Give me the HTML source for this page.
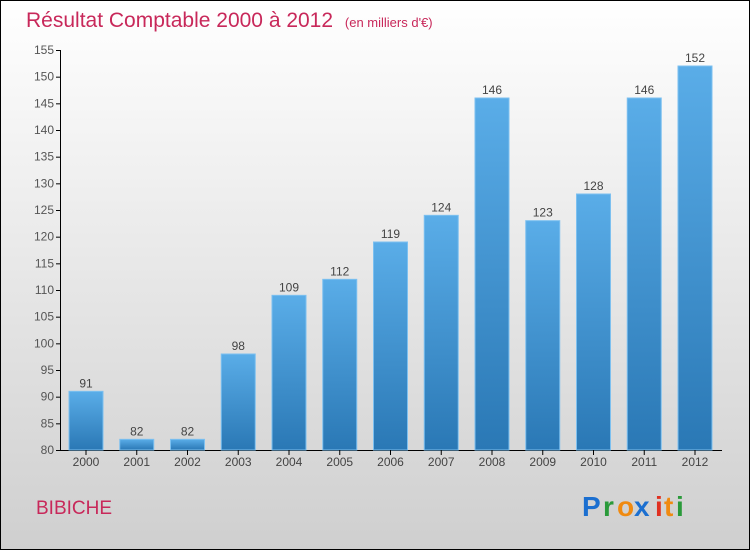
<!DOCTYPE html>
<html><head><meta charset="utf-8"><style>
body{margin:0;width:750px;height:550px;overflow:hidden}
svg{display:block;font-family:"Liberation Sans",sans-serif}
</style></head><body>
<svg width="750" height="550">
<defs>
<linearGradient id="bg" x1="0" y1="0" x2="0" y2="1"><stop offset="0" stop-color="#ffffff"/><stop offset="1" stop-color="#cfcfcf"/></linearGradient>
<linearGradient id="bar" x1="0" y1="0" x2="0" y2="1"><stop offset="0" stop-color="#5aade8"/><stop offset="1" stop-color="#2a78b5"/></linearGradient>
</defs>
<rect x="0.5" y="0.5" width="749" height="549" fill="url(#bg)" stroke="#000"/>
<text x="26" y="27" font-size="21" fill="#c8285a">Résultat Comptable 2000 à 2012 <tspan font-size="13" dx="6">(en milliers d'€)</tspan></text>
<g id="plot"></g>
<text x="36" y="514" font-size="19" fill="#c8285a">BIBICHE</text>
<g font-size="28" font-weight="bold">
<text x="582" y="516" fill="#1b6fd0">P</text><text x="603" y="516" fill="#2a9a3a">r</text><text x="617" y="516" fill="#f08a10">o</text><text x="634" y="516" fill="#1b6fd0">x</text><text x="655" y="516" fill="#e03020">i</text><text x="664" y="516" fill="#f08a10">t</text><text x="676" y="516" fill="#2a9a3a">i</text>
</g>
</svg>
<script>
const years=["2000","2001","2002","2003","2004","2005","2006","2007","2008","2009","2010","2011","2012"];
const values=[91,82,82,98,109,112,119,124,146,123,128,146,152];
const ticks=[80,85,90,95,100,105,110,115,120,125,130,135,140,145,150,155];
const NS="http://www.w3.org/2000/svg";
const g=document.getElementById('plot');
const y=v=>450-(v-80)*400/75;
const x=i=>86+i*50.75;
function mk(t,a,txt){const e=document.createElementNS(NS,t);for(const k in a)e.setAttribute(k,a[k]);if(txt!==undefined)e.textContent=txt;g.appendChild(e);return e;}
const ax=mk('line',{x1:60.5,y1:50,x2:60.5,y2:450,stroke:'#000'});


const bx=mk('line',{x1:60,y1:450.5,x2:722,y2:450.5,stroke:'#000'});


ticks.forEach(t=>{
 const l=mk('line',{x1:56,x2:60,y1:y(t)+.5,y2:y(t)+.5,stroke:'#000'});
 
 
 const tx=mk('text',{x:54,y:y(t)+4,'font-size':12,fill:'#555','text-anchor':'end'},t);
 
 
});
values.forEach((v,i)=>{
 const r=mk('rect',{x:x(i)-17,y:y(v),width:34,height:450-y(v),fill:'url(#bar)',stroke:'#7cc0f0','stroke-width':1});
 
 
 const vl=mk('text',{x:x(i),y:y(v)-4,'font-size':12,fill:'#444','text-anchor':'middle'},v);
 
 
 const tk=mk('line',{x1:x(i),x2:x(i),y1:450,y2:455,stroke:'#000'});
 
 
 const xl=mk('text',{x:x(i),y:466,'font-size':12,fill:'#444','text-anchor':'middle'},years[i]);
 
 
});
</script>
</body></html>
